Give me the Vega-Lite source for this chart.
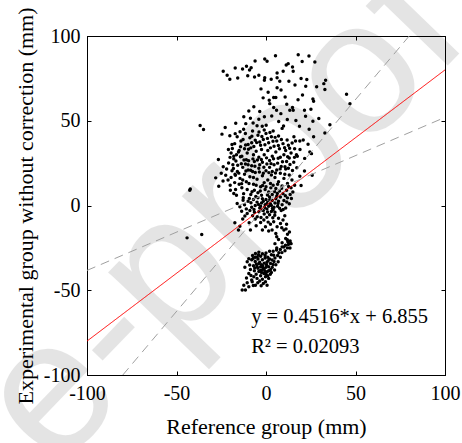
{
"$schema": "https://vega.github.io/schema/vega-lite/v6.json",
"width": 358, "height": 339,
"autosize": "none",
"padding": {"left": 87, "top": 36, "right": 17, "bottom": 68},
"background": "white",
"config": {"view": {"stroke": "black", "strokeWidth": 1}, "font": "Liberation Serif"},
"datasets": {
"wm": [{"x": -118.2, "y": -157.5, "t": "e-proof"}],
"pts": [
{"x":-23.9,"y":79.2},{"x":-21.7,"y":76.8},{"x":-20.2,"y":74.5},{"x":-17.2,"y":81.1},{"x":-15.8,"y":75.2},{"x":-13.1,"y":80.5},{"x":-10.9,"y":82.1},{"x":-10.2,"y":76.6},{"x":-8.3,"y":81.3},{"x":-9.2,"y":80.0},{"x":-6.1,"y":85.3},{"x":-6.4,"y":75.8},{"x":-4.0,"y":76.8},{"x":-0.7,"y":86.4},{"x":0.6,"y":85.1},{"x":-0.7,"y":75.4},{"x":-0.9,"y":73.9},{"x":5.3,"y":88.4},{"x":2.9,"y":74.5},{"x":6.2,"y":75.4},{"x":1.2,"y":66.8},{"x":4.3,"y":63.7},{"x":5.5,"y":63.7},{"x":9.6,"y":79.2},{"x":11.3,"y":82.9},{"x":7.7,"y":73.3},{"x":12.8,"y":73.3},{"x":14.8,"y":81.7},{"x":18.0,"y":89.0},{"x":20.2,"y":84.9},{"x":24.0,"y":88.2},{"x":27.3,"y":84.7},{"x":19.6,"y":74.9},{"x":22.8,"y":74.3},{"x":22.2,"y":70.3},{"x":20.4,"y":65.2},{"x":26.2,"y":62.9},{"x":26.6,"y":61.5},{"x":32.3,"y":71.9},{"x":33.3,"y":73.9},{"x":32.9,"y":68.4},{"x":45.0,"y":65.6},{"x":46.9,"y":60.1},{"x":35.7,"y":47.7},{"x":32.9,"y":42.8},{"x":29.5,"y":51.3},{"x":24.1,"y":45.0},{"x":26.6,"y":40.5},{"x":24.5,"y":31.6},{"x":25.4,"y":30.6},{"x":25.8,"y":17.9},{"x":19.6,"y":11.8},{"x":18.9,"y":17.3},{"x":21.5,"y":20.4},{"x":18.7,"y":46.8},{"x":21.5,"y":56.2},{"x":22.1,"y":52.6},{"x":20.8,"y":38.7},{"x":18.9,"y":38.1},{"x":15.6,"y":40.5},{"x":14.6,"y":36.9},{"x":11.6,"y":59.7},{"x":14.8,"y":57.8},{"x":15.2,"y":56.2},{"x":10.7,"y":64.0},{"x":8.3,"y":54.2},{"x":4.3,"y":57.8},{"x":5.9,"y":56.2},{"x":2.1,"y":60.1},{"x":-0.9,"y":52.3},{"x":-4.0,"y":50.9},{"x":-2.1,"y":46.8},{"x":0.1,"y":47.3},{"x":-8.7,"y":51.5},{"x":-7.2,"y":48.7},{"x":-9.6,"y":55.8},{"x":-11.3,"y":48.3},{"x":-12.4,"y":52.3},{"x":-16.9,"y":48.5},{"x":-22.8,"y":46.0},{"x":-20.2,"y":41.1},{"x":-17.2,"y":42.4},{"x":-16.1,"y":40.5},{"x":-36.8,"y":47.2},{"x":-34.9,"y":44.8},{"x":-42.6,"y":9.0},{"x":-42.3,"y":9.8},{"x":-44.1,"y":-19.1},{"x":-35.9,"y":-17.1},
{"x":6.2,"y":78.2},{"x":12.4,"y":83.7},{"x":15.2,"y":79.2},{"x":26.2,"y":49.7},{"x":6.2,"y":69.5},{"x":1.8,"y":62.1},{"x":13.3,"y":56.2},{"x":16.5,"y":38.0},{"x":17.0,"y":30.0},{"x":19.0,"y":33.0},{"x":-21.0,"y":33.0},{"x":-19.0,"y":36.0},{"x":-18.0,"y":29.0},
{"x":-3.5,"y":55.5},{"x":-6.8,"y":58.2},{"x":3.2,"y":52.8},{"x":7.1,"y":49.6},{"x":11.9,"y":50.8},{"x":16.7,"y":50.1},{"x":-1.6,"y":63.5},{"x":8.4,"y":68.2},{"x":17.9,"y":62.4},{"x":25.1,"y":56.8},{"x":28.3,"y":70.1},{"x":16.2,"y":71.1},{"x":-2.8,"y":68.8},{"x":9.8,"y":46.9},{"x":-24.6,"y":42.1},{"x":23.5,"y":36.1},{"x":21.6,"y":27.8},{"x":17.2,"y":22.3},
{"x":-17.5,"y":36.5},{"x":-14.0,"y":38.0},{"x":-11.5,"y":42.5},{"x":-10.0,"y":36.0},{"x":-9.0,"y":40.0},{"x":-7.5,"y":44.0},{"x":-6.0,"y":38.5},{"x":-4.5,"y":41.5},{"x":-3.0,"y":35.5},{"x":-1.5,"y":39.0},{"x":0.0,"y":42.5},{"x":1.5,"y":37.0},{"x":3.0,"y":40.5},{"x":4.5,"y":35.0},{"x":6.0,"y":38.0},{"x":7.5,"y":33.5},{"x":9.5,"y":36.5},{"x":11.0,"y":32.5},{"x":12.5,"y":35.5},{"x":14.0,"y":31.0},{"x":16.0,"y":33.5},{"x":17.5,"y":29.0},{"x":13.0,"y":28.0},{"x":10.0,"y":30.0},{"x":8.0,"y":28.5},{"x":5.5,"y":31.5},{"x":3.5,"y":29.0},{"x":1.0,"y":32.5},{"x":-1.0,"y":30.0},{"x":-2.5,"y":33.0},{"x":-4.0,"y":28.5},{"x":-5.5,"y":32.0},{"x":-7.0,"y":30.0},{"x":-8.5,"y":34.0},{"x":-10.5,"y":31.0},{"x":-12.0,"y":33.5},{"x":-13.5,"y":29.0},{"x":-15.0,"y":32.5},{"x":-16.5,"y":30.0},{"x":-18.0,"y":27.5},{"x":-19.5,"y":31.0},{"x":-11.0,"y":27.0},{"x":-6.5,"y":26.0},{"x":-2.0,"y":25.5},{"x":2.0,"y":26.5},{"x":6.5,"y":25.0},{"x":11.5,"y":26.0},{"x":15.5,"y":25.5},{"x":-8.0,"y":37.0},{"x":-3.5,"y":37.5},{"x":2.5,"y":34.0},{"x":7.0,"y":41.0},{"x":-12.5,"y":45.0},{"x":-5.0,"y":47.0},{"x":-1.0,"y":44.5},{"x":4.0,"y":44.0},{"x":9.0,"y":45.5},{"x":-14.5,"y":43.5},{"x":-10.0,"y":24.0},
{"x":-14.2,"y":34.6},{"x":-12.8,"y":38.9},{"x":-11.4,"y":35.7},{"x":-9.8,"y":33.2},{"x":-7.9,"y":40.8},{"x":-6.8,"y":34.8},{"x":-5.2,"y":37.1},{"x":-3.9,"y":43.3},{"x":-2.3,"y":40.7},{"x":-0.6,"y":35.9},{"x":0.8,"y":39.6},{"x":2.2,"y":43.1},{"x":3.9,"y":37.9},{"x":5.1,"y":40.2},{"x":6.9,"y":35.4},{"x":8.6,"y":38.9},{"x":10.4,"y":34.1},{"x":11.8,"y":38.6},{"x":13.2,"y":33.8},{"x":-18.8,"y":33.6},{"x":-20.1,"y":28.4},
{"x":-26.6,"y":27.1},{"x":-28.1,"y":16.3},{"x":-26.4,"y":11.4},{"x":-23.9,"y":22.8},{"x":-20.9,"y":25.1},{"x":-22.5,"y":17.9},{"x":-21.2,"y":15.0},{"x":-19.9,"y":9.0},{"x":-18.0,"y":7.1},{"x":-17.1,"y":17.9},{"x":-15.8,"y":23.8},{"x":-15.4,"y":31.6},{"x":-14.3,"y":28.7},
{"x":-19.0,"y":20.5},{"x":-17.5,"y":13.5},{"x":-16.0,"y":20.0},{"x":-14.5,"y":16.0},{"x":-13.0,"y":22.5},{"x":-12.0,"y":18.5},{"x":-11.0,"y":14.0},{"x":-10.0,"y":21.0},{"x":-9.0,"y":17.0},{"x":-8.0,"y":23.5},{"x":-7.0,"y":12.5},{"x":-6.0,"y":19.5},{"x":-5.0,"y":15.5},{"x":-4.0,"y":22.0},{"x":-3.0,"y":11.0},{"x":-2.0,"y":17.5},{"x":-1.0,"y":13.5},{"x":0.0,"y":20.5},{"x":1.0,"y":15.0},{"x":2.0,"y":22.5},{"x":3.0,"y":18.0},{"x":4.0,"y":12.0},{"x":5.0,"y":16.5},{"x":6.0,"y":21.0},{"x":7.0,"y":14.0},{"x":8.0,"y":19.0},{"x":9.0,"y":11.5},{"x":10.0,"y":16.0},{"x":11.0,"y":21.5},{"x":12.0,"y":13.0},{"x":13.0,"y":18.0},{"x":14.0,"y":10.5},{"x":15.0,"y":8.0},{"x":-13.5,"y":10.5},{"x":-12.5,"y":7.0},{"x":-10.5,"y":9.5},{"x":-8.5,"y":6.5},{"x":-6.5,"y":9.0},{"x":-4.5,"y":7.5},{"x":-2.5,"y":6.0},{"x":-0.5,"y":9.5},{"x":1.5,"y":8.0},{"x":3.5,"y":6.5},{"x":5.5,"y":10.0},{"x":7.5,"y":8.5},{"x":9.5,"y":7.0},{"x":11.5,"y":9.0},{"x":13.5,"y":6.5},{"x":-15.0,"y":12.5},{"x":-16.5,"y":6.0},{"x":-11.5,"y":24.5},{"x":-7.5,"y":20.0},{"x":-3.5,"y":24.0},{"x":0.5,"y":24.5},{"x":4.5,"y":24.0},{"x":8.5,"y":23.0},{"x":12.5,"y":22.0},{"x":-9.5,"y":13.0},{"x":-5.5,"y":12.0},{"x":-1.5,"y":19.0},{"x":2.5,"y":13.0},{"x":6.5,"y":12.5},{"x":10.5,"y":18.5},{"x":-13.0,"y":15.0},{"x":-18.5,"y":24.0},{"x":-20.0,"y":12.0},{"x":-24.0,"y":14.5},{"x":-22.0,"y":21.5},{"x":-25.0,"y":19.0},{"x":-17.0,"y":9.5},{"x":-7.0,"y":16.5},{"x":3.5,"y":20.0},{"x":0.0,"y":11.0},{"x":14.5,"y":15.0},{"x":16.0,"y":12.0},
{"x":-19.5,"y":16.5},{"x":-18.2,"y":21.8},{"x":-16.8,"y":26.2},{"x":-15.2,"y":19.1},{"x":-13.8,"y":24.6},{"x":-12.3,"y":26.8},{"x":-11.2,"y":20.3},{"x":-9.7,"y":26.4},{"x":-8.6,"y":20.8},{"x":-7.3,"y":27.5},{"x":-6.2,"y":23.1},{"x":-4.8,"y":26.9},{"x":-3.7,"y":19.8},{"x":-2.6,"y":27.2},{"x":-1.2,"y":22.6},{"x":0.3,"y":28.1},{"x":1.6,"y":19.4},{"x":2.8,"y":24.7},{"x":4.2,"y":27.6},{"x":5.3,"y":19.2},{"x":6.8,"y":27.9},{"x":7.9,"y":21.6},{"x":9.2,"y":25.8},{"x":10.6,"y":22.9},{"x":12.1,"y":28.7},{"x":13.4,"y":24.2},{"x":14.8,"y":20.6},{"x":15.9,"y":28.4},{"x":-17.3,"y":18.4},{"x":-13.6,"y":12.9},{"x":-12.7,"y":4.6},{"x":-9.3,"y":4.2},{"x":-7.8,"y":8.1},{"x":-5.7,"y":5.3},{"x":-3.2,"y":8.6},{"x":-1.9,"y":11.8},{"x":0.8,"y":6.2},{"x":2.7,"y":10.4},{"x":4.8,"y":8.2},{"x":6.3,"y":7.1},{"x":8.7,"y":10.2},{"x":10.8,"y":5.8},{"x":12.6,"y":11.2},{"x":14.2,"y":4.1},
{"x":-16.1,"y":1.2},{"x":-14.6,"y":-0.8},{"x":-12.8,"y":3.1},{"x":-10.5,"y":-4.7},{"x":-4.9,"y":-6.7},{"x":-4.0,"y":-3.7},{"x":-12.0,"y":0.5},{"x":-10.0,"y":2.5},{"x":-8.0,"y":-1.0},{"x":-7.0,"y":3.5},{"x":-6.0,"y":0.0},{"x":-5.0,"y":2.0},{"x":-3.5,"y":-1.5},{"x":-2.5,"y":1.5},{"x":-1.5,"y":-3.0},{"x":-0.5,"y":0.5},{"x":0.5,"y":-2.0},{"x":1.0,"y":2.0},{"x":1.5,"y":-0.5},{"x":2.5,"y":1.0},{"x":3.0,"y":-3.5},{"x":3.5,"y":3.0},{"x":4.5,"y":-1.0},{"x":5.0,"y":1.5},{"x":5.5,"y":4.0},{"x":6.5,"y":-0.5},{"x":7.0,"y":2.5},{"x":8.0,"y":5.0},{"x":9.0,"y":0.5},{"x":10.0,"y":3.0},{"x":11.0,"y":-1.5},{"x":12.0,"y":4.5},{"x":13.0,"y":1.0},{"x":-2.0,"y":4.0},{"x":0.0,"y":3.5},{"x":2.0,"y":5.0},{"x":-9.0,"y":-3.0},{"x":-6.5,"y":-4.0},{"x":-1.0,"y":-5.0},{"x":2.0,"y":-5.5},{"x":5.0,"y":-4.0},{"x":8.5,"y":-3.0},{"x":-4.5,"y":4.5},{"x":-11.0,"y":-2.0},{"x":6.0,"y":5.5},{"x":-3.0,"y":-0.5},{"x":0.5,"y":1.0},{"x":3.0,"y":0.0},{"x":-1.5,"y":2.5},{"x":4.0,"y":-2.5},
{"x":-8.4,"y":1.6},{"x":-6.7,"y":-2.3},{"x":-4.2,"y":0.6},{"x":-2.2,"y":-2.6},{"x":-0.8,"y":-1.2},{"x":0.9,"y":-3.8},{"x":2.1,"y":3.4},{"x":3.6,"y":-1.8},{"x":4.9,"y":-5.8},{"x":6.7,"y":1.2},{"x":7.6,"y":-1.6},{"x":9.6,"y":-2.4},{"x":11.6,"y":2.1},{"x":-13.6,"y":-3.4},{"x":-11.8,"y":-6.2},{"x":-7.5,"y":-6.1},{"x":-2.8,"y":-7.1},{"x":1.2,"y":-9.8},{"x":3.8,"y":-7.2},{"x":8.8,"y":-13.1},{"x":-5.5,"y":-12.0},{"x":11.2,"y":-13.8},{"x":13.1,"y":-15.6},
{"x":-17.4,"y":-10.2},{"x":-15.4,"y":-14.5},{"x":-14.6,"y":-12.2},{"x":-9.4,"y":-10.2},{"x":-8.7,"y":-14.5},{"x":-1.2,"y":-8.6},{"x":-0.3,"y":-12.6},{"x":2.5,"y":-11.0},{"x":4.3,"y":-9.6},{"x":6.2,"y":-12.6},{"x":5.5,"y":-16.5},{"x":8.1,"y":-10.6},{"x":10.0,"y":-14.5},{"x":3.4,"y":-14.5},{"x":-6.0,"y":-8.0},{"x":-3.0,"y":-10.0},{"x":0.5,"y":-7.0},{"x":1.5,"y":-15.0},{"x":7.0,"y":-7.5},{"x":9.5,"y":-8.5},{"x":11.5,"y":-11.0},{"x":12.0,"y":-17.0},{"x":6.0,"y":-18.5},{"x":-2.0,"y":-14.5},{"x":10.5,"y":-6.0},{"x":-13.0,"y":-8.0},
{"x":7.0,"y":-20.0},{"x":9.0,"y":-22.0},{"x":11.0,"y":-19.5},{"x":12.5,"y":-23.0},{"x":13.5,"y":-21.0},{"x":14.0,"y":-22.5},{"x":12.0,"y":-25.0},{"x":10.0,"y":-24.5},{"x":8.0,"y":-26.0},{"x":6.0,"y":-25.0},{"x":4.0,"y":-27.0},{"x":5.0,"y":-22.5},
{"x":-13.3,"y":-49.9},{"x":-11.5,"y":-49.9},{"x":-12.4,"y":-47.0},{"x":-10.5,"y":-45.6},{"x":-9.6,"y":-47.9},{"x":-7.7,"y":-45.0},{"x":-5.9,"y":-47.0},{"x":-9.6,"y":-40.1},{"x":-8.7,"y":-37.7},{"x":-6.8,"y":-42.0},{"x":-10.5,"y":-33.2},{"x":-9.6,"y":-31.4},{"x":-5.9,"y":-28.3},{"x":-4.9,"y":-30.3},{"x":-4.0,"y":-34.2},{"x":-3.0,"y":-36.1},{"x":-2.1,"y":-38.1},{"x":-1.2,"y":-40.1},{"x":-0.3,"y":-42.0},{"x":0.6,"y":-39.1},{"x":1.5,"y":-36.1},{"x":2.5,"y":-34.2},{"x":3.4,"y":-32.2},{"x":4.3,"y":-29.3},{"x":5.9,"y":-26.3},{"x":7.2,"y":-27.9},{"x":9.0,"y":-24.4},{"x":10.9,"y":-23.4},{"x":12.2,"y":-21.4},{"x":13.7,"y":-22.4},{"x":-0.3,"y":-45.0},{"x":1.5,"y":-43.0},
{"x":-6.0,"y":-33.0},{"x":-5.0,"y":-36.0},{"x":-4.5,"y":-31.5},{"x":-3.5,"y":-33.5},{"x":-3.0,"y":-30.0},{"x":-2.5,"y":-35.0},{"x":-2.0,"y":-32.0},{"x":-1.5,"y":-37.0},{"x":-1.0,"y":-34.0},{"x":-0.5,"y":-31.0},{"x":0.0,"y":-36.5},{"x":0.5,"y":-33.5},{"x":1.0,"y":-30.5},{"x":1.5,"y":-38.5},{"x":2.0,"y":-31.5},{"x":3.0,"y":-29.0},{"x":3.5,"y":-36.5},{"x":4.5,"y":-33.0},{"x":5.0,"y":-31.0},{"x":-7.0,"y":-35.5},{"x":-6.5,"y":-38.5},{"x":-5.5,"y":-40.5},{"x":-4.0,"y":-39.0},{"x":-3.0,"y":-41.5},{"x":-2.0,"y":-43.5},{"x":-1.0,"y":-37.5},{"x":0.0,"y":-40.5},{"x":-8.0,"y":-32.0},{"x":-7.5,"y":-29.5},{"x":-4.0,"y":-27.5},{"x":-2.0,"y":-28.5},{"x":0.0,"y":-28.0},{"x":2.0,"y":-27.0},{"x":6.5,"y":-29.5},{"x":8.0,"y":-30.5},{"x":5.5,"y":-35.0},{"x":-3.5,"y":-44.5},{"x":-5.0,"y":-43.0},{"x":-8.0,"y":-44.0},{"x":-1.5,"y":-46.0},{"x":-4.5,"y":-37.0},{"x":-2.5,"y":-39.5},{"x":-6.0,"y":-30.5},{"x":1.0,"y":-41.5},{"x":-0.5,"y":-29.5},{"x":3.0,"y":-39.5},
{"x":-7.2,"y":-31.2},{"x":-5.4,"y":-34.6},{"x":-4.2,"y":-29.1},{"x":-3.1,"y":-38.4},{"x":-1.8,"y":-35.6},{"x":-0.6,"y":-38.9},{"x":0.3,"y":-34.9},{"x":1.2,"y":-32.6},{"x":2.6,"y":-37.8},{"x":3.9,"y":-34.8},{"x":-6.3,"y":-36.8},{"x":-8.4,"y":-41.3},{"x":-7.1,"y":-47.2},{"x":-4.6,"y":-45.6},{"x":-2.7,"y":-47.4},{"x":-10.9,"y":-42.8},{"x":-11.8,"y":-36.4},{"x":-9.1,"y":-35.1},{"x":0.6,"y":-47.1},{"x":2.4,"y":-40.6},{"x":4.8,"y":-38.1},{"x":6.8,"y":-33.2},{"x":8.9,"y":-27.8},{"x":10.6,"y":-26.7},{"x":11.9,"y":-20.2},{"x":13.4,"y":-25.1}
],
"lines": [
{"x":-100,"y":-80,"s":"red"},{"x":100,"y":80,"s":"red"},
{"x":-100,"y":-38.3,"s":"fit"},{"x":100,"y":52.0,"s":"fit"},
{"x":-80,"y":-100,"s":"steep"},{"x":80,"y":100,"s":"steep"}
],
"ann": [
{"x":-8.3,"y":-69.2,"t":"y = 0.4516*x + 6.855"},
{"x":-8.3,"y":-87.2,"t":"R² = 0.02093"}
]
},
"resolve": {"axis": {"x": "independent", "y": "independent"}},
"layer": [
{
"data": {"name": "wm"},
"mark": {"type": "text", "align": "left", "baseline": "alphabetic", "font": "Liberation Sans", "fontSize": 190, "angle": -46, "color": "black", "opacity": 0.1},
"encoding": {
"x": {"field": "x", "type": "quantitative", "axis": null},
"y": {"field": "y", "type": "quantitative", "axis": null},
"text": {"field": "t"}
}
},
{
"data": {"name": "pts"},
"mark": {"type": "circle", "size": 12, "color": "black", "opacity": 1},
"encoding": {
"x": {"field": "x", "type": "quantitative", "scale": {"domain": [-100, 100], "nice": false, "zero": false},
 "axis": {"orient": "bottom", "values": [-100,-50,0,50,100], "labelExpr": "datum.value", "labelFlush": false, "grid": false, "tickSize": -4, "tickColor": "black", "domainColor": "black", "labelPadding": 12, "labelFontSize": 20, "labelColor": "black", "labelFont": "Liberation Serif", "title": "Reference group (mm)", "titleFontSize": 22, "titleFontWeight": "normal", "titleColor": "black", "titleFont": "Liberation Serif", "titlePadding": 13}},
"y": {"field": "y", "type": "quantitative", "scale": {"domain": [-100, 100], "nice": false, "zero": false},
 "axis": {"orient": "left", "values": [-100,-50,0,50,100], "labelExpr": "datum.value", "labelFlush": false, "grid": false, "tickSize": -4, "tickColor": "black", "domainColor": "black", "labelPadding": 11, "labelFontSize": 20, "labelColor": "black", "labelFont": "Liberation Serif", "title": "Experimental group without correction (mm)", "titleFontSize": 22, "titleFontWeight": "normal", "titleColor": "black", "titleFont": "Liberation Serif", "titlePadding": 6}}
}
},
{
"data": {"name": "lines"},
"mark": {"type": "line", "strokeWidth": 1},
"encoding": {
"x": {"field": "x", "type": "quantitative", "axis": {"orient": "top", "values": [-100,-50,0,50,100], "labels": false, "grid": false, "tickSize": -4, "tickColor": "black", "domainColor": "black", "title": null}},
"y": {"field": "y", "type": "quantitative", "axis": {"orient": "right", "values": [-100,-50,0,50,100], "labels": false, "grid": false, "tickSize": -4, "tickColor": "black", "domainColor": "black", "title": null}},
"color": {"field": "s", "type": "nominal", "scale": {"domain": ["red","fit","steep"], "range": ["#ff0000","#a0a0a0","#a0a0a0"]}, "legend": null},
"strokeDash": {"field": "s", "type": "nominal", "scale": {"domain": ["red","fit","steep"], "range": [[1,0],[9,6],[9,6]]}, "legend": null}
}
},
{
"data": {"name": "ann"},
"mark": {"type": "text", "align": "left", "baseline": "alphabetic", "font": "Liberation Serif", "fontSize": 20.5, "color": "black"},
"encoding": {
"x": {"field": "x", "type": "quantitative", "axis": null},
"y": {"field": "y", "type": "quantitative", "axis": null},
"text": {"field": "t"}
}
}
]
}
